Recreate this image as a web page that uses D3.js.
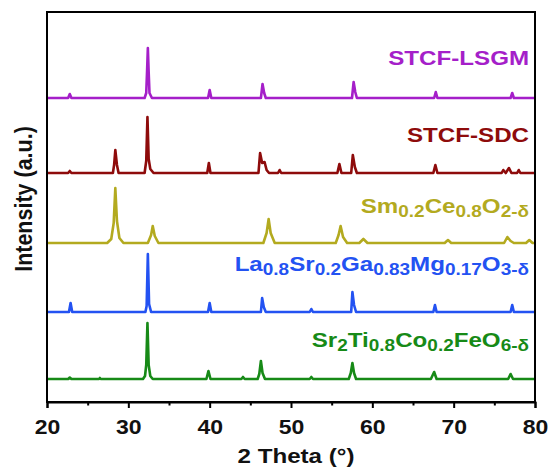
<!DOCTYPE html>
<html>
<head>
<meta charset="utf-8">
<script src="https://cdn.jsdelivr.net/npm/d3@7"></script>
<style>
  html, body { margin: 0; padding: 0; background: #fff; }
  text { font-family: "Liberation Sans", Arial, sans-serif; font-weight: bold; }
</style>
</head>
<body>
<svg id="chart" width="551" height="473"></svg>
<script>
// ---------- data (2θ, relative intensity a.u.) ----------
const xTicks = [20, 30, 40, 50, 60, 70, 80];
const xMinorTicks = [25, 35, 45, 55, 65, 75];

const seriesNames = ["Sr2Ti0.8Co0.2FeO6-δ", "La0.8Sr0.2Ga0.83Mg0.17O3-δ", "Sm0.2Ce0.8O2-δ", "STCF-SDC", "STCF-LSGM"];
const seriesColors = ["#178a17", "#2352f2", "#b3aa1f", "#8e0b0b", "#a51fc9"];
const seriesOffsets = [23, 90, 159, 229, 304];

const stcf = [[20,0],[22.6,0],[22.8,1.5],[23.0,0],[26.4,0],[26.5,1],[26.6,0],[31.8,0],[32.05,3],[32.2,14],[32.35,56],[32.5,14],[32.7,3],[33.0,0],
  [39.6,0],[39.85,8],[40.1,0],[43.9,0],[44.1,2],[44.3,0],[45.9,0],[46.1,5],[46.3,18],[46.5,6],[46.8,0],[52.3,0],[52.5,2],[52.7,0],
  [57.1,0],[57.35,6],[57.55,16],[57.75,6],[58.0,0],[67.2,0],[67.6,7],[67.9,0],[76.7,0],[77.0,5],[77.3,0],[80,0]];

const lsgm = [[20,0],[22.7,0],[22.9,9],[23.1,0],[32.1,0],[32.25,6],[32.4,58],[32.55,8],[32.8,0],[39.8,0],[40.0,9],[40.2,0],
  [46.3,0],[46.45,14],[46.65,5],[46.9,0],[52.3,0],[52.5,3],[52.7,0],[57.4,0],[57.55,20],[57.75,7],[58.0,0],
  [67.5,0],[67.7,7],[67.9,0],[77.0,0],[77.2,7],[77.4,0],[80,0]];

const sdc = [[20,0],[27.4,0],[27.9,4],[28.2,20],[28.4,55],[28.6,22],[28.9,5],[29.4,0],[32.4,0],[32.8,8],[33.0,17],[33.25,7],[33.7,0],
  [46.6,0],[47.0,10],[47.25,24],[47.5,10],[48.0,0],[55.5,0],[55.85,8],[56.1,17],[56.4,6],[56.9,0],[58.4,0],[58.9,4],[59.4,0],
  [68.9,0],[69.3,3],[69.7,0],[76.2,0],[76.6,6],[77.0,2],[77.4,0],[78.9,0],[79.3,3],[79.7,0],[80,0]];

const stcfSdc = [[20,0],[22.6,0],[22.8,2],[23.0,0],[28.1,0],[28.25,8],[28.4,23],[28.6,8],[28.8,0],[32.0,0],[32.2,12],[32.35,56],[32.5,14],[32.7,4],[33.1,0],
  [39.7,0],[39.9,10],[40.1,0],[46.0,0],[46.2,20],[46.45,10],[46.75,11],[47.0,3],[47.3,0],[48.4,0],[48.6,3],[48.8,0],
  [55.7,0],[55.95,9],[56.2,0],[57.4,0],[57.6,18],[57.85,6],[58.1,0],[67.5,0],[67.75,8],[68.0,0],
  [75.9,0],[76.1,3],[76.4,0],[76.8,5],[77.1,0],[77.8,0],[78.0,3],[78.2,0],[80,0]];

const stcfLsgm = [[20,0],[22.6,0],[22.8,4],[23.0,0],[32.0,0],[32.2,5],[32.3,26],[32.4,50],[32.5,26],[32.6,5],[32.9,0],
  [39.8,0],[40.0,8],[40.2,0],[46.3,0],[46.5,14],[46.7,5],[46.9,0],[57.5,0],[57.7,16],[57.9,6],[58.1,0],
  [67.6,0],[67.8,6],[68.0,0],[77.0,0],[77.2,5],[77.4,0],[80,0]];

const seriesData = [stcf, lsgm, sdc, stcfSdc, stcfLsgm];

// label text parts: [text, isSubscript]
const labelParts = [
  [["Sr",0],["2",1],["Ti",0],["0.8",1],["Co",0],["0.2",1],["FeO",0],["6-δ",1]],
  [["La",0],["0.8",1],["Sr",0],["0.2",1],["Ga",0],["0.83",1],["Mg",0],["0.17",1],["O",0],["3-δ",1]],
  [["Sm",0],["0.2",1],["Ce",0],["0.8",1],["O",0],["2-δ",1]],
  [["STCF-SDC",0]],
  [["STCF-LSGM",0]]
];

// ---------- layout ----------
const margin = {left: 47, right: 16, top: 12, bottom: 71};
const W = 551, H = 473;
const SX = 1.15; // horizontal glyph stretch seen in the reference
const svg = d3.select("#chart");
const x = d3.scaleLinear().domain([20, 80]).range([margin.left, W - margin.right]);
const y = d3.scaleLinear().domain([0, 390]).range([H - margin.bottom, margin.top]);
const labelRise = [32, 41, 30, 31, 33];

seriesData.forEach((data, i) => {
  svg.append("path")
    .datum(data)
    .attr("fill", "none")
    .attr("stroke", seriesColors[i])
    .attr("stroke-width", 2.6)
    .attr("stroke-linejoin", "round")
    .attr("d", d3.line().x(d => x(d[0])).y(d => y(seriesOffsets[i] + d[1]))(data));

  const t = svg.append("text")
    .attr("transform", `translate(529,${y(seriesOffsets[i] + labelRise[i])}) scale(${SX},1)`)
    .attr("text-anchor", "end")
    .attr("fill", seriesColors[i])
    .attr("font-size", 21);
  labelParts[i].forEach(p => {
    t.append("tspan")
      .attr("font-size", p[1] ? 16.5 : 21)
      .attr("baseline-shift", p[1] ? "-4" : "0")
      .text(p[0]);
  });
});

// frame
svg.append("rect")
  .attr("x", margin.left).attr("y", margin.top)
  .attr("width", W - margin.right - margin.left)
  .attr("height", H - margin.bottom - margin.top)
  .attr("fill", "none").attr("stroke", "#000").attr("stroke-width", 2);

// x axis
const gx = svg.append("g").attr("transform", `translate(0,${H - margin.bottom})`)
  .call(d3.axisBottom(x).tickValues(xTicks).tickSize(6).tickPadding(12).tickFormat(d3.format("d")));
gx.select(".domain").attr("stroke-width", 2);
gx.selectAll(".tick line").attr("stroke-width", 2);
gx.selectAll(".tick text").attr("font-size", 20).attr("fill", "#111")
  .style("font-family", "'Liberation Sans', Arial, sans-serif").style("font-weight", "bold")
  .attr("transform", `scale(${SX},1)`)
  .attr("x", function() { return 0; });
const gxm = svg.append("g").attr("transform", `translate(0,${H - margin.bottom})`)
  .call(d3.axisBottom(x).tickValues(xMinorTicks).tickSize(3.5).tickFormat(""));
gxm.select(".domain").remove();
gxm.selectAll(".tick line").attr("stroke-width", 2);

// titles
svg.append("text").attr("transform", `translate(296,463) scale(${SX},1)`).attr("text-anchor", "middle")
  .attr("font-size", 21).attr("fill", "#111").text("2 Theta (°)");
svg.append("text").attr("transform", `translate(32,199) rotate(-90) scale(1,${SX})`).attr("text-anchor", "middle")
  .attr("font-size", 21.5).attr("fill", "#111").text("Intensity (a.u.)");
</script>
</body>
</html>
